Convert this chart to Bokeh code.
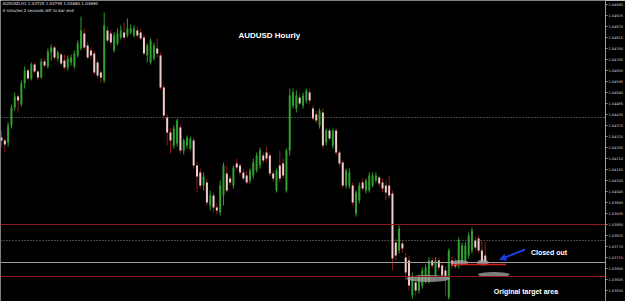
from bokeh.plotting import figure
from bokeh.models import (Range1d, FixedTicker, CustomJSTickFormatter, Span, Label,
                          Arrow, NormalHead, ColumnDataSource, LinearAxis)
from bokeh.core.properties import value
from bokeh.embed import file_html
from bokeh.resources import INLINE

# ---------------- data (AUDUSD hourly candles) ----------------
opens = [1.04315,1.04300,1.04290,1.04375,1.04465,1.04520,1.04480,1.04585,1.04650,1.04610,
         1.04680,1.04645,1.04615,1.04695,1.04670,1.04740,1.04765,1.04710,1.04730,1.04700,
         1.04665,1.04690,1.04670,1.04725,1.04760,1.04835,1.04775,1.04750,1.04735,1.04690,
         1.04640,1.04600,1.04850,1.04835,1.04750,1.04785,1.04815,1.04840,1.04825,1.04840,
         1.04825,1.04850,1.04840,1.04815,1.04725,1.04690,1.04710,1.04760,1.04725,1.04565,
         1.04415,1.04340,1.04275,1.04285,1.04365,1.04250,1.04275,1.04260,1.04300,1.04175,
         1.04140,1.04075,1.04090,1.03975,1.04025,1.03965,1.03940,1.04025,1.04135,1.04110,
         1.04075,1.04185,1.04175,1.04140,1.04125,1.04100,1.04125,1.04150,1.04175,1.04225,
         1.04240,1.04225,1.04135,1.04050,1.04175,1.04185,1.04050,1.04250,1.04475,1.04460,
         1.04515,1.04475,1.04500,1.04540,1.04460,1.04430,1.04375,1.04440,1.04290,1.04350,
         1.04275,1.04350,1.04240,1.04190,1.04075,1.04075,1.04075,1.03935,1.04000,1.04090,
         1.04050,1.04050,1.04075,1.04100,1.04115,1.04090,1.04075,1.04075,1.04035,1.03790,
         1.03750,1.03785,1.03715,1.03700,1.03525,1.03590,1.03550,1.03575,1.03600,1.03600,
         1.03700,1.03625,1.03700,1.03675,1.03650,1.03515,1.03700,1.03690,1.03675,1.03690,
         1.03700,1.03725,1.03750,1.03800,1.03810,1.03750,1.03725]
highs = [1.04350,1.04310,1.04390,1.04480,1.04540,1.04530,1.04600,1.04670,1.04660,1.04690,
         1.04690,1.04650,1.04710,1.04710,1.04760,1.04780,1.04775,1.04750,1.04740,1.04730,
         1.04725,1.04730,1.04750,1.04800,1.04920,1.04860,1.04790,1.04765,1.04750,1.04700,
         1.04650,1.04940,1.04870,1.04850,1.04840,1.04860,1.04875,1.04890,1.04910,1.04880,
         1.04875,1.04870,1.04860,1.04830,1.04785,1.04810,1.04790,1.04810,1.04740,1.04575,
         1.04430,1.04360,1.04375,1.04410,1.04380,1.04310,1.04325,1.04320,1.04315,1.04190,
         1.04160,1.04140,1.04110,1.04050,1.04040,1.03985,1.04100,1.04190,1.04175,1.04125,
         1.04175,1.04210,1.04185,1.04160,1.04150,1.04160,1.04210,1.04240,1.04265,1.04240,
         1.04270,1.04240,1.04150,1.04160,1.04250,1.04210,1.04260,1.04560,1.04560,1.04550,
         1.04540,1.04540,1.04560,1.04560,1.04475,1.04450,1.04460,1.04460,1.04360,1.04365,
         1.04360,1.04365,1.04250,1.04200,1.04160,1.04160,1.04090,1.04050,1.04090,1.04110,
         1.04110,1.04140,1.04140,1.04140,1.04125,1.04110,1.04100,1.04125,1.04050,1.03810,
         1.03875,1.03800,1.03740,1.03725,1.03640,1.03610,1.03630,1.03665,1.03680,1.03715,
         1.03715,1.03715,1.03715,1.03690,1.03670,1.03760,1.03720,1.03710,1.03815,1.03790,
         1.03790,1.03840,1.03865,1.03820,1.03825,1.03800,1.03795]
lows = [1.04265,1.04240,1.04270,1.04360,1.04450,1.04440,1.04470,1.04560,1.04600,1.04600,
        1.04635,1.04600,1.04610,1.04665,1.04660,1.04700,1.04705,1.04695,1.04675,1.04655,
        1.04650,1.04675,1.04660,1.04715,1.04750,1.04755,1.04705,1.04710,1.04630,1.04610,
        1.04590,1.04590,1.04790,1.04775,1.04740,1.04775,1.04805,1.04805,1.04815,1.04830,
        1.04815,1.04815,1.04800,1.04725,1.04690,1.04680,1.04700,1.04715,1.04555,1.04410,
        1.04275,1.04235,1.04260,1.04270,1.04235,1.04230,1.04260,1.04250,1.04160,1.04040,
        1.04060,1.04050,1.03975,1.03950,1.03940,1.03930,1.03925,1.03975,1.04040,1.04075,
        1.04060,1.04150,1.04125,1.04100,1.04080,1.04085,1.04110,1.04140,1.04160,1.04185,
        1.04190,1.04120,1.04095,1.04040,1.04090,1.04110,1.04040,1.04225,1.04460,1.04440,
        1.04475,1.04460,1.04485,1.04480,1.04400,1.04385,1.04360,1.04260,1.04275,1.04300,
        1.04260,1.04225,1.04170,1.04060,1.04060,1.04060,1.03975,1.03920,1.03985,1.04050,
        1.04035,1.04040,1.04065,1.04090,1.04070,1.04040,1.04000,1.04010,1.03650,1.03700,
        1.03735,1.03740,1.03600,1.03550,1.03510,1.03525,1.03535,1.03560,1.03585,1.03585,
        1.03660,1.03615,1.03650,1.03610,1.03525,1.03505,1.03660,1.03660,1.03660,1.03675,
        1.03685,1.03710,1.03735,1.03750,1.03735,1.03680,1.03680]
closes = [1.04300,1.04280,1.04375,1.04465,1.04520,1.04500,1.04585,1.04650,1.04610,1.04680,
          1.04645,1.04615,1.04695,1.04675,1.04745,1.04765,1.04715,1.04740,1.04685,1.04665,
          1.04710,1.04715,1.04735,1.04785,1.04850,1.04765,1.04715,1.04725,1.04640,1.04625,
          1.04615,1.04875,1.04800,1.04790,1.04825,1.04835,1.04850,1.04815,1.04860,1.04860,
          1.04860,1.04825,1.04810,1.04735,1.04775,1.04800,1.04775,1.04735,1.04565,1.04425,
          1.04340,1.04300,1.04360,1.04400,1.04250,1.04300,1.04315,1.04310,1.04175,1.04120,
          1.04075,1.04120,1.03990,1.04025,1.03965,1.03950,1.04075,1.04175,1.04050,1.04090,
          1.04165,1.04165,1.04140,1.04110,1.04090,1.04150,1.04190,1.04225,1.04250,1.04200,
          1.04210,1.04135,1.04110,1.04150,1.04110,1.04125,1.04250,1.04525,1.04540,1.04525,
          1.04485,1.04525,1.04550,1.04500,1.04410,1.04400,1.04450,1.04275,1.04350,1.04310,
          1.04350,1.04240,1.04185,1.04075,1.04150,1.04140,1.03990,1.04040,1.04075,1.04060,
          1.04100,1.04125,1.04125,1.04125,1.04085,1.04060,1.04040,1.04025,1.03710,1.03725,
          1.03860,1.03760,1.03640,1.03575,1.03615,1.03550,1.03615,1.03650,1.03665,1.03700,
          1.03675,1.03700,1.03665,1.03625,1.03615,1.03750,1.03675,1.03670,1.03800,1.03775,
          1.03775,1.03825,1.03850,1.03765,1.03750,1.03690,1.03690]

# price axis ticks and marked levels
tick_values = [1.04980, 1.04925, 1.04870, 1.04815, 1.04760, 1.04705, 1.04650, 1.04595,
               1.04540, 1.04485, 1.04430, 1.04375, 1.04320, 1.04265, 1.04210, 1.04155,
               1.04100, 1.04045, 1.03990, 1.03935, 1.03880, 1.03825, 1.03770, 1.03715,
               1.03660, 1.03605, 1.03550]
dotted_levels = [1.04415, 1.03800]
red_levels = [1.03880, 1.03620]
bid_level = 1.03690
closed_level = 1.03680
closed_from, closed_to = 135.7, 152.3

# target-area ellipses (bar index, price, width in bars, height in price)
ell_x = [128.8, 138.4, 145.3, 148.6]
ell_y = [1.03610, 1.03690, 1.03690, 1.03630]
ell_w = [13.2, 5.1, 3.6, 9.6]
ell_h = [0.00035, 0.00025, 0.00030, 0.00025]

arrow_from = (158.0, 1.03755)
arrow_to = (150.4, 1.03705)

# ---------------- figure ----------------
n = len(closes)
idx = list(range(n))
up = [c >= o for o, c in zip(opens, closes)]
x_end = 182.3

p = figure(width=625, height=301, output_backend="svg", toolbar_location=None,
           x_range=Range1d(-0.3, x_end), y_range=Range1d(1.03495, 1.05000),
           min_border=0, min_border_right=0, min_border_left=0,
           background_fill_color="black", border_fill_color="black",
           outline_line_color=None)
p.xaxis.visible = False
p.yaxis.visible = False
p.grid.visible = False

ax = LinearAxis(ticker=FixedTicker(ticks=tick_values),
                formatter=CustomJSTickFormatter(code="return tick.toFixed(5);"),
                axis_line_color="#9a9a9a", major_tick_line_color="#9a9a9a",
                minor_tick_line_color=None, major_tick_out=2, major_tick_in=0,
                major_label_text_color="#d0d0d0", major_label_text_font_size="3.5px",
                major_label_standoff=1, major_label_text_font="DejaVu Sans")
p.add_layout(ax, "right")

# levels
for lv in dotted_levels:
    p.add_layout(Span(location=lv, dimension="width", line_color="#8a8a8a",
                      line_dash="1 2", line_width=1))
for lv in red_levels:
    p.add_layout(Span(location=lv, dimension="width", line_color="#8e1c1c", line_width=1))
p.add_layout(Span(location=bid_level, dimension="width", line_color="#9c9c9c", line_width=1))

# candles
src = ColumnDataSource(dict(x=idx, o=opens, h=highs, l=lows, c=closes,
                            top=[max(o, c) for o, c in zip(opens, closes)],
                            bot=[min(o, c) for o, c in zip(opens, closes)],
                            wick=["#2f9f2f" if u else "#8a1d1d" for u in up],
                            body=["#2f9f2f" if u else "#f4cccc" for u in up]))
p.segment(x0="x", y0="h", x1="x", y1="l", color="wick", line_width=1, source=src)
p.vbar(x="x", top="top", bottom="bot", width=0.6, fill_color="body",
       line_color=None, source=src)

# target ellipses
p.ellipse(x=ell_x, y=ell_y, width=ell_w, height=ell_h, fill_color="#a8a8a8",
          fill_alpha=0.75, line_color=None)

# closed-out level
p.segment(x0=[closed_from], y0=[closed_level], x1=[closed_to], y1=[closed_level],
          line_color="#d02020", line_width=1.5)

# arrow
p.add_layout(Arrow(x_start=arrow_from[0], y_start=arrow_from[1],
                   x_end=arrow_to[0], y_end=arrow_to[1],
                   line_color="#1e3ee0", line_width=2,
                   end=NormalHead(size=6, fill_color="#1e3ee0", line_color="#1e3ee0")))

# texts
bold = dict(text_color="white", text_font=value("Liberation Sans"),
            text_font_style="bold", text_baseline="middle", text_align="left")
p.text(x=[71.5], y=[1.04825], text=["AUDUSD Hourly"], text_font_size="8px", **bold)
p.text(x=[159.8], y=[1.03740], text=["Closed out"], text_font_size="7px", **bold)
p.text(x=[148.6], y=[1.03545], text=["Original target area"], text_font_size="7px", **bold)

info = dict(text_color="#e0e0e0", text_font=value("DejaVu Sans"), text_font_size="4px",
            text_baseline="middle", text_align="left")
p.text(x=[0.3], y=[1.04985], text=["AUDUSD,H1  1.03725 1.03795 1.03680 1.03690"], **info)
p.text(x=[0.3], y=[1.04950], text=["4 minutes 2 seconds left to bar end"], **info)

# axis price boxes for marked levels
box_levels = [1.04415, 1.03880, 1.03800, bid_level, 1.03620]
box_fill = ["#5a6a80", "#b01818", "#5a6a80", "#f0f0f0", "#b01818"]
box_text = ["#c8d0e0", "#ffd0d0", "#c8d0e0", "#000000", "#ffd0d0"]
for lv, fc, tc in zip(box_levels, box_fill, box_text):
    p.add_layout(Label(x=x_end, y=lv, x_units="data", y_units="data", x_offset=1,
                       text=f"{lv:.5f}", text_font_size="3.5px", text_color=tc,
                       text_baseline="middle", background_fill_color=fc,
                       text_font="DejaVu Sans"))

open("out.html", "w").write(file_html(p, INLINE))
